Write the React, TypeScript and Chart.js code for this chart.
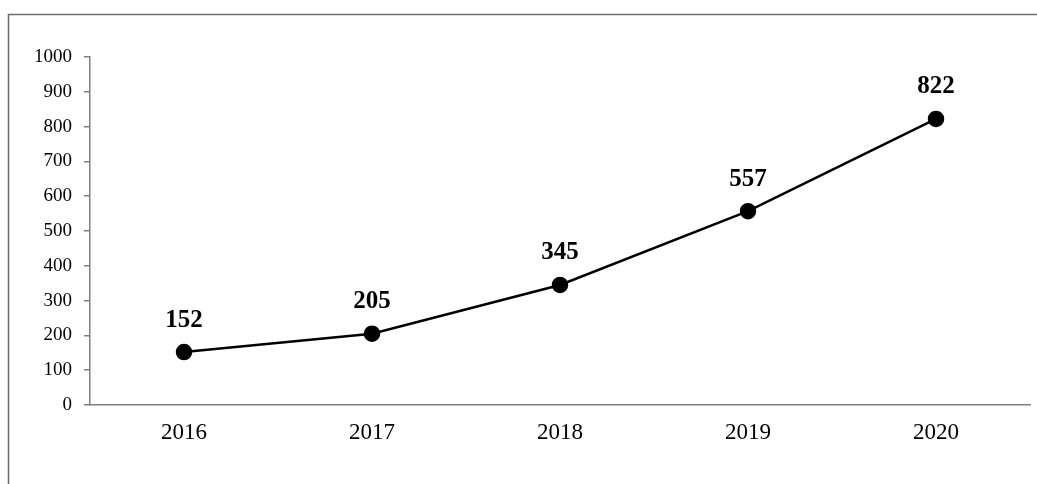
import React, { useEffect, useRef } from "react";
import { Chart, registerables } from "chart.js";

Chart.register(...registerables);

const years = ["2016", "2017", "2018", "2019", "2020"];
const values = [152, 205, 345, 557, 822];
const yTicks = [0, 100, 200, 300, 400, 500, 600, 700, 800, 900, 1000];

const FONT = "'Liberation Serif', 'Times New Roman', serif";

const framePlugin = {
  id: "frame",
  beforeDraw(chart: any) {
    const ctx = chart.ctx;
    ctx.save();
    ctx.strokeStyle = "#6b6b6b";
    ctx.lineWidth = 1.5;
    ctx.beginPath();
    ctx.moveTo(8.5, chart.height);
    ctx.lineTo(8.5, 14.5);
    ctx.lineTo(chart.width, 14.5);
    ctx.stroke();
    ctx.restore();
  },
};

const labelPlugin = {
  id: "valueLabels",
  afterDatasetsDraw(chart: any) {
    const ctx = chart.ctx;
    const meta = chart.getDatasetMeta(0);
    ctx.save();
    ctx.font = `bold 25px ${FONT}`;
    ctx.fillStyle = "#000";
    ctx.textAlign = "center";
    ctx.textBaseline = "middle";
    meta.data.forEach((pt: any, i: number) => {
      ctx.fillText(String(values[i]), pt.x, pt.y - 32);
    });
    ctx.restore();
  },
};

export default function App() {
  const ref = useRef<HTMLCanvasElement>(null);
  useEffect(() => {
    if (!ref.current) return;
    const chart = new Chart(ref.current, {
      type: "line",
      data: {
        labels: years,
        datasets: [
          {
            data: values,
            borderColor: "#000",
            backgroundColor: "#000",
            borderWidth: 2.5,
            pointRadius: 7,
            pointBackgroundColor: "#000",
            pointBorderColor: "#000",
            tension: 0,
          },
        ],
      },
      options: {
        animation: false,
        responsive: false,
        devicePixelRatio: 1,
        layout: { autoPadding: false, padding: { left: 0, top: 57, right: 7, bottom: 0 } },
        plugins: { legend: { display: false }, tooltip: { enabled: false } },
        scales: {
          x: {
            offset: true,
            grid: { display: false, drawTicks: false },
            border: { display: true, color: "#7f7f7f", width: 1.5 },
            ticks: { color: "#000", font: { family: FONT, size: 23 }, padding: 14 },
            afterFit: (s: any) => {
              s.height = 79;
              s.paddingLeft = 0;
              s.paddingRight = 0;
            },
          },
          y: {
            min: 0,
            max: 1000,
            afterBuildTicks: (s: any) => {
              s.ticks = yTicks.map((v) => ({ value: v }));
            },
            grid: { drawOnChartArea: false, drawTicks: true, tickLength: 6, color: "#7f7f7f", lineWidth: 1.5 },
            border: { display: true, color: "#7f7f7f", width: 1.5 },
            ticks: {
              color: "#000",
              font: { family: FONT, size: 19 },
              padding: 12,
              callback: (v: any) => String(v),
            },
            afterFit: (s: any) => {
              s.width = 90;
            },
          },
        },
      },
      plugins: [framePlugin, labelPlugin],
    });
    return () => chart.destroy();
  }, []);
  return (
    <div style={{ position: "absolute", left: 0, top: 0, width: 1037, height: 484, background: "#fff" }}>
      <canvas ref={ref} width={1037} height={484} style={{ display: "block" }} />
    </div>
  );
}
